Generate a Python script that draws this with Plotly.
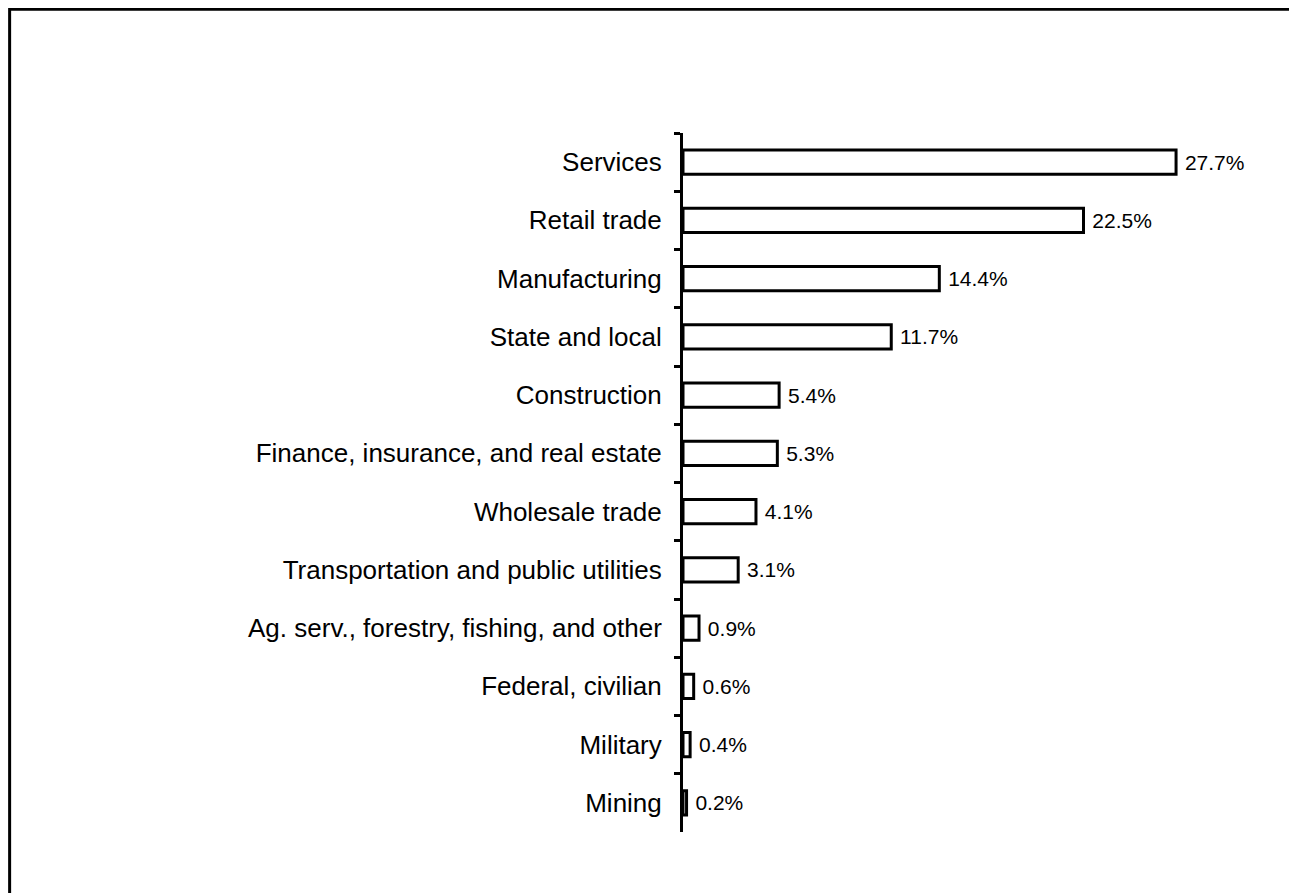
import plotly.graph_objects as go

industries = [
    "Services",
    "Retail trade",
    "Manufacturing",
    "State and local",
    "Construction",
    "Finance, insurance, and real estate",
    "Wholesale trade",
    "Transportation and public utilities",
    "Ag. serv., forestry, fishing, and other",
    "Federal, civilian",
    "Military",
    "Mining",
]
shares = [27.7, 22.5, 14.4, 11.7, 5.4, 5.3, 4.1, 3.1, 0.9, 0.6, 0.4, 0.2]
share_labels = [f" {v:.1f}%" for v in shares]

FONT = "Liberation Sans, Arial, Helvetica, sans-serif"

fig = go.Figure(go.Bar(
    x=shares, y=industries,
    orientation="h",
    marker=dict(color="white", line=dict(color="black", width=3)),
    text=share_labels,
    textposition="outside",
    textfont=dict(size=21, color="black", family=FONT),
    cliponaxis=False,
    width=0.42,
))

fig.update_layout(
    width=1297, height=893,
    margin=dict(l=675, r=88, t=125, b=69),
    paper_bgcolor="white", plot_bgcolor="white",
    showlegend=False,
    font=dict(family=FONT, color="black"),
    xaxis=dict(range=[0, 30], visible=False, fixedrange=True),
    yaxis=dict(
        autorange="reversed",
        showline=True, linecolor="black", linewidth=3,
        ticks="outside", tickson="boundaries", ticklen=6, tickwidth=3,
        tickcolor="black",
        tickfont=dict(size=26, family=FONT),
        ticklabelstandoff=13,
        showgrid=False, zeroline=False,
    ),
    # frame around the whole figure, as in the scanned original
    shapes=[dict(
        type="rect", xref="paper", yref="paper",
        x0=-1.261, x1=1.144, y0=-0.2, y1=1.177,
        line=dict(color="black", width=3), fillcolor="rgba(0,0,0,0)",
        layer="below",
    )],
)

fig.write_html("out.html")
